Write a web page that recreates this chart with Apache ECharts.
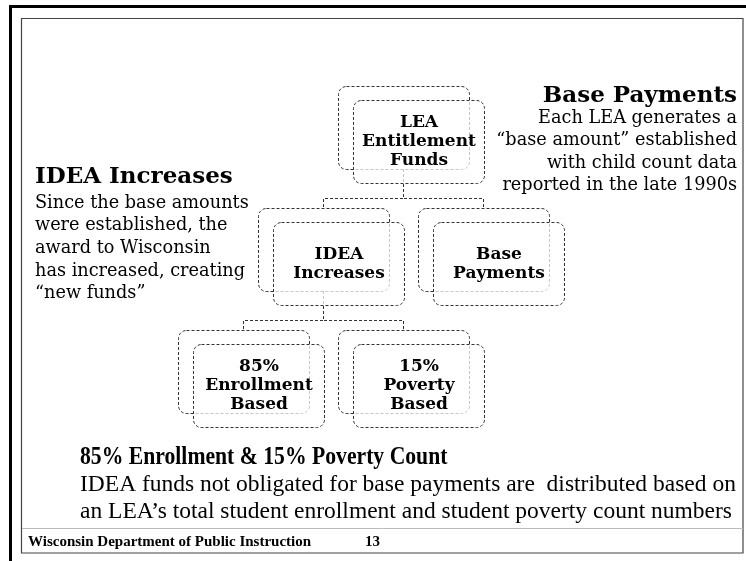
<!DOCTYPE html>
<html>
<head>
<meta charset="utf-8">
<script src="https://cdn.jsdelivr.net/npm/echarts@6/dist/echarts.min.js"></script>
<style>
    html, body {margin:0;padding:0;background:#fff}
    #chart {width:746px;height:561px}
</style>
</head>
<body>
<div id="chart"></div>
<script>
    // tree boxes
    var nodeNames = ['LEA\nEntitlement\nFunds', 'IDEA\nIncreases', 'Base\nPayments', '85%\nEnrollment\nBased', '15%\nPoverty\nBased'];
    var nodeParent = [-1, 0, 0, 1, 1];
    var nodeCx = [403, 323, 483, 243, 403];
    var nodeTop = [86, 208, 208, 330, 330];

    // side notes
    var rightTitle = 'Base Payments';
    var rightLines = ['Each LEA generates a', '\u201cbase amount\u201d established', 'with child count data', 'reported in the late 1990s'];
    var leftTitle = 'IDEA Increases';
    var leftLines = ['Since the base amounts', 'were established, the', 'award to Wisconsin', 'has increased, creating', '\u201cnew funds\u201d'];
    var bottomTitle = '85% Enrollment & 15% Poverty Count';
    var bottomLines = ['IDEA funds not obligated for base payments are  distributed based on', 'an LEA\u2019s total student enrollment and student poverty count numbers'];
    var footerText = 'Wisconsin Department of Public Instruction';
    var pageNo = '13';

    var BW = 131, BH = 83, OFF_X = 15, OFF_Y = 14;
    var dash = [3, 2];
    var lineCol = '#333';

    var chart = echarts.init(document.getElementById('chart'));

    var nodeData = nodeNames.map(function (n, i) { return [nodeCx[i], nodeTop[i]]; });

    var graphics = [];
    // frame
    graphics.push({type: 'rect', shape: {x: 9, y: 5, width: 740, height: 3}, style: {fill: '#000'}});
    graphics.push({type: 'rect', shape: {x: 9, y: 5, width: 3, height: 560}, style: {fill: '#000'}});
    graphics.push({type: 'rect', shape: {x: 21.5, y: 18.5, width: 721.5, height: 534.5}, style: {fill: 'none', stroke: '#444', lineWidth: 1.2}});
    graphics.push({type: 'line', shape: {x1: 22, y1: 528.5, x2: 743, y2: 528.5}, style: {stroke: '#bbb', lineWidth: 1}});

    function addText(t, x, y, font, align, sx) {
        graphics.push({type: 'text', x: x, y: y, scaleX: sx || 1,
            style: {text: t, font: font, fill: '#000', textAlign: align || 'left', textVerticalAlign: 'middle'}});
    }
    var headFont = 'bold 23px "DejaVu Serif"';
    var bodyFont = '17.7px "DejaVu Serif"';

    addText(rightTitle, 737, 96, headFont, 'right');
    rightLines.forEach(function (t, i) { addText(t, 737, 118 + i * 22.5, bodyFont, 'right'); });
    addText(leftTitle, 35, 177, headFont);
    leftLines.forEach(function (t, i) { addText(t, 35, 203 + i * 22.7, bodyFont); });
    addText(bottomTitle, 80, 457, 'bold 25.5px "Liberation Serif"', 'left', 0.85);
    bottomLines.forEach(function (t, i) { addText(t, 80, 485 + i * 27, '23.5px "Liberation Serif"'); });
    addText(footerText, 28, 542, 'bold 15px "Liberation Serif"');
    addText(pageNo, 365, 542, 'bold 15px "Liberation Serif"');

    chart.setOption({
        animation: false,
        grid: {left: 0, right: 0, top: 0, bottom: 0},
        xAxis: {type: 'value', min: 0, max: 746, show: false},
        yAxis: {type: 'value', min: 0, max: 561, inverse: true, show: false},
        graphic: graphics,
        series: [
            {
                // connectors
                type: 'custom',
                z: 1,
                data: nodeData,
                renderItem: function (params, api) {
                    var i = params.dataIndex, p = nodeParent[i];
                    if (p < 0) return null;
                    var c = api.coord([nodeCx[i], nodeTop[i]]);
                    var pc = api.coord([nodeCx[p], nodeTop[p] + BH]);
                    var midY = c[1] - 9.5;
                    return {
                        type: 'polyline',
                        shape: {points: [[pc[0] + 0.5, pc[1]], [pc[0] + 0.5, midY], [c[0] + 0.5, midY], [c[0] + 0.5, c[1]]]},
                        style: {fill: 'none', stroke: lineCol, lineWidth: 1, lineDash: dash}
                    };
                }
            },
            {
                // boxes
                type: 'custom',
                z: 2,
                data: nodeData,
                renderItem: function (params, api) {
                    var i = params.dataIndex;
                    var c = api.coord([api.value(0), api.value(1)]);
                    var x0 = Math.round(c[0] - BW / 2) + 0.5, y0 = Math.round(c[1]) + 0.5;
                    return {
                        type: 'group',
                        children: [
                            {type: 'rect', shape: {x: x0, y: y0, width: BW, height: BH, r: 8},
                                style: {fill: 'none', stroke: lineCol, lineWidth: 1, lineDash: dash}},
                            {type: 'rect', shape: {x: x0 + OFF_X, y: y0 + OFF_Y, width: BW, height: BH, r: 8},
                                style: {fill: 'rgba(255,255,255,0.72)', stroke: lineCol, lineWidth: 1, lineDash: dash}},
                            {type: 'text', x: x0 + OFF_X + BW / 2, y: y0 + OFF_Y + BH / 2,
                                style: {text: nodeNames[i], font: 'bold 17px "DejaVu Serif"', lineHeight: 19, fill: '#000',
                                    textAlign: 'center', textVerticalAlign: 'middle'}}
                        ]
                    };
                }
            }
        ]
    });
</script>
</body>
</html>
